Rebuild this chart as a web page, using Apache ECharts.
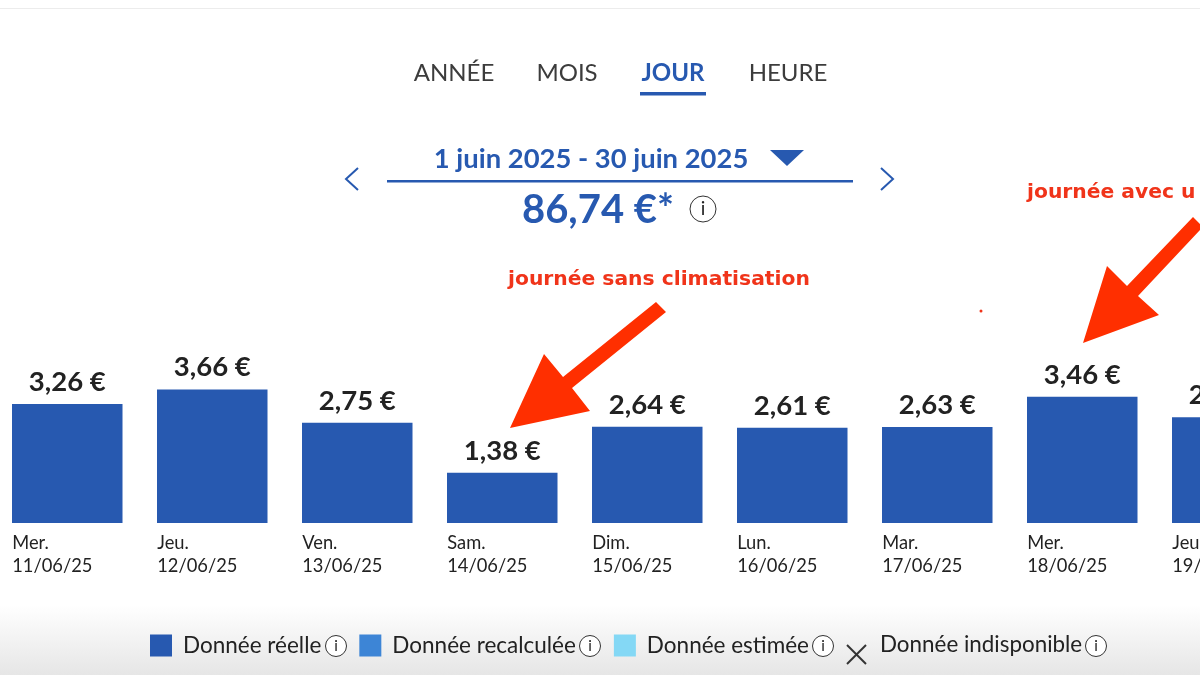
<!DOCTYPE html>
<html>
<head>
<meta charset="utf-8">
<title>Consommation par jour</title>
<script src="https://cdn.jsdelivr.net/npm/echarts@6/dist/echarts.min.js"></script>
<style>
html, body { margin: 0; padding: 0; background: #fff; }
#main { width: 1200px; height: 675px; }
</style>
</head>
<body>
<div id="main"></div>
<script>
var days = ['Mer.', 'Jeu.', 'Ven.', 'Sam.', 'Dim.', 'Lun.', 'Mar.', 'Mer.', 'Jeu.'];
var dates = ['11/06/25', '12/06/25', '13/06/25', '14/06/25', '15/06/25', '16/06/25', '17/06/25', '18/06/25', '19/06/25'];
var reelle = [3.26, 3.66, 2.75, 1.38, 2.64, 2.61, 2.63, 3.46, 2.90];
var tabs = ['ANNÉE', 'MOIS', 'JOUR', 'HEURE'];

var BLUE = '#2759b0';
var FONT = 'Lato';
var categories = days.map(function (d, i) { return d + '\n' + dates[i]; });

// petit "i" entouré
function infoIcon(x, y, r, size) {
    return [
        { type: 'circle', shape: { cx: x, cy: y, r: r }, style: { fill: '#fff', stroke: '#333', lineWidth: 1 } },
        { type: 'text', x: x, y: y, style: { text: 'i', fill: '#222', font: size + 'px ' + FONT, align: 'center', verticalAlign: 'middle' } }
    ];
}

function tabText(text, x, active) {
    return {
        type: 'text', x: x, y: 73.5,
        style: {
            text: text, fill: active ? BLUE : '#3c3c3c',
            font: (active ? 'bold ' : '') + '24px ' + FONT,
            align: 'center', verticalAlign: 'middle'
        }
    };
}

var tabX = [454, 567, 673, 788];
var deco = [
    // fond
    { type: 'rect', z: -1, shape: { x: 0, y: 8, width: 1200, height: 1 }, style: { fill: '#ececec' } },
    {
        type: 'rect', z: -1, shape: { x: 0, y: 605, width: 1200, height: 70 },
        style: { fill: new echarts.graphic.LinearGradient(0, 0, 0, 1, [{ offset: 0, color: '#ffffff' }, { offset: 1, color: '#e6e6e6' }]) }
    },
    // sélecteur de période
    { type: 'rect', shape: { x: 640, y: 92, width: 66, height: 3.5 }, style: { fill: BLUE } },
    { type: 'text', x: 591, y: 159, style: { text: '1 juin 2025 - 30 juin 2025', fill: BLUE, font: 'bold 27.4px ' + FONT, align: 'center', verticalAlign: 'middle' } },
    { type: 'polygon', shape: { points: [[770, 150], [804, 150], [787, 166]] }, style: { fill: BLUE } },
    { type: 'rect', shape: { x: 387, y: 180, width: 466, height: 2.5 }, style: { fill: BLUE } },
    { type: 'polyline', shape: { points: [[358, 168], [346, 179], [358, 190]] }, style: { stroke: BLUE, lineWidth: 2, fill: null } },
    { type: 'polyline', shape: { points: [[881, 168], [893, 179], [881, 190]] }, style: { stroke: BLUE, lineWidth: 2, fill: null } },
    { type: 'text', x: 598, y: 210, style: { text: '86,74 €*', fill: BLUE, font: 'bold 40px ' + FONT, align: 'center', verticalAlign: 'middle' } },
    // annotations
    { type: 'text', x: 508, y: 280, style: { text: 'journée sans climatisation', fill: '#f0341a', font: 'bold 20.3px "DejaVu Sans"', align: 'left', verticalAlign: 'middle' } },
    { type: 'text', x: 1027, y: 193, style: { text: 'journée avec u', fill: '#f0341a', font: 'bold 20.3px "DejaVu Sans"', align: 'left', verticalAlign: 'middle' } },
    { type: 'polygon', shape: { points: [[510, 428], [544, 354], [563, 377], [656, 302], [666, 312], [572, 388], [590, 411]] }, style: { fill: '#ff2f00' } },
    { type: 'polygon', shape: { points: [[1083, 343], [1107, 266], [1127, 286], [1193, 217], [1200, 224], [1200, 230], [1138, 296], [1159, 315]] }, style: { fill: '#ff2f00' } },
    { type: 'circle', shape: { cx: 981, cy: 311, r: 1.5 }, style: { fill: '#f0341a' } },
    // croix "indisponible"
    { type: 'polyline', shape: { points: [[847, 645], [866, 664]] }, style: { stroke: '#333', lineWidth: 2, fill: null } },
    { type: 'polyline', shape: { points: [[866, 645], [847, 664]] }, style: { stroke: '#333', lineWidth: 2, fill: null } }
];
tabs.forEach(function (t, i) { deco.push(tabText(t, tabX[i], t === 'JOUR')); });
deco = deco.concat(infoIcon(703, 209, 13, 19), infoIcon(336, 646, 10.5, 15), infoIcon(590, 646, 10.5, 15), infoIcon(823, 646, 10.5, 15), infoIcon(1096, 646, 10.5, 15));

var legendText = { fontFamily: FONT, fontSize: 22.5, color: '#222', padding: [0, 0, 0, 6] };

var myChart = echarts.init(document.getElementById('main'));
var option = {
    animation: false,
    backgroundColor: '#fff',
    grid: { left: -5.25, top: 340.5, width: 1305, height: 182.5, containLabel: false, outerBoundsMode: 'none' },
    xAxis: {
        type: 'category',
        data: categories,
        axisLine: { show: false },
        axisTick: { show: false },
        axisLabel: {
            interval: 0,
            margin: 9,
            formatter: function (v) {
                var p = v.split('\n');
                return '{a|' + p[0] + '}\n{a|' + p[1] + '}';
            },
            rich: { a: { width: 110, align: 'left', fontFamily: FONT, fontSize: 18.3, lineHeight: 23, color: '#222' } }
        }
    },
    yAxis: { type: 'value', min: 0, max: 5, show: false, splitLine: { show: false } },
    legend: [
        {
            left: 150, top: 634, padding: 0, itemWidth: 22, itemHeight: 22, itemGap: 38, icon: 'rect',
            selectedMode: false, textStyle: legendText,
            data: ['Donnée réelle', 'Donnée recalculée', 'Donnée estimée']
        },
        {
            left: 874, top: 634, padding: 0, itemWidth: 1, itemHeight: 22, icon: 'rect',
            selectedMode: false, itemStyle: { opacity: 0 },
            textStyle: { fontFamily: FONT, fontSize: 22.4, color: '#222' },
            data: ['Donnée indisponible']
        }
    ],
    series: [
        {
            name: 'Donnée réelle',
            type: 'bar',
            stack: 'conso',
            barWidth: 110.5,
            data: reelle,
            itemStyle: { color: BLUE },
            label: {
                show: true,
                position: 'top',
                distance: 8,
                fontFamily: FONT,
                fontWeight: 'bold',
                fontSize: 27.5,
                color: '#222',
                formatter: function (p) { return p.value.toFixed(2).replace('.', ',') + ' €'; }
            }
        },
        { name: 'Donnée recalculée', type: 'bar', stack: 'conso', data: [], itemStyle: { color: '#3d85d6' } },
        { name: 'Donnée estimée', type: 'bar', stack: 'conso', data: [], itemStyle: { color: '#84d8f5' } },
        { name: 'Donnée indisponible', type: 'bar', stack: 'conso', data: [], itemStyle: { color: '#333' } }
    ],
    graphic: { elements: deco }
};
myChart.setOption(option);
</script>
</body>
</html>
